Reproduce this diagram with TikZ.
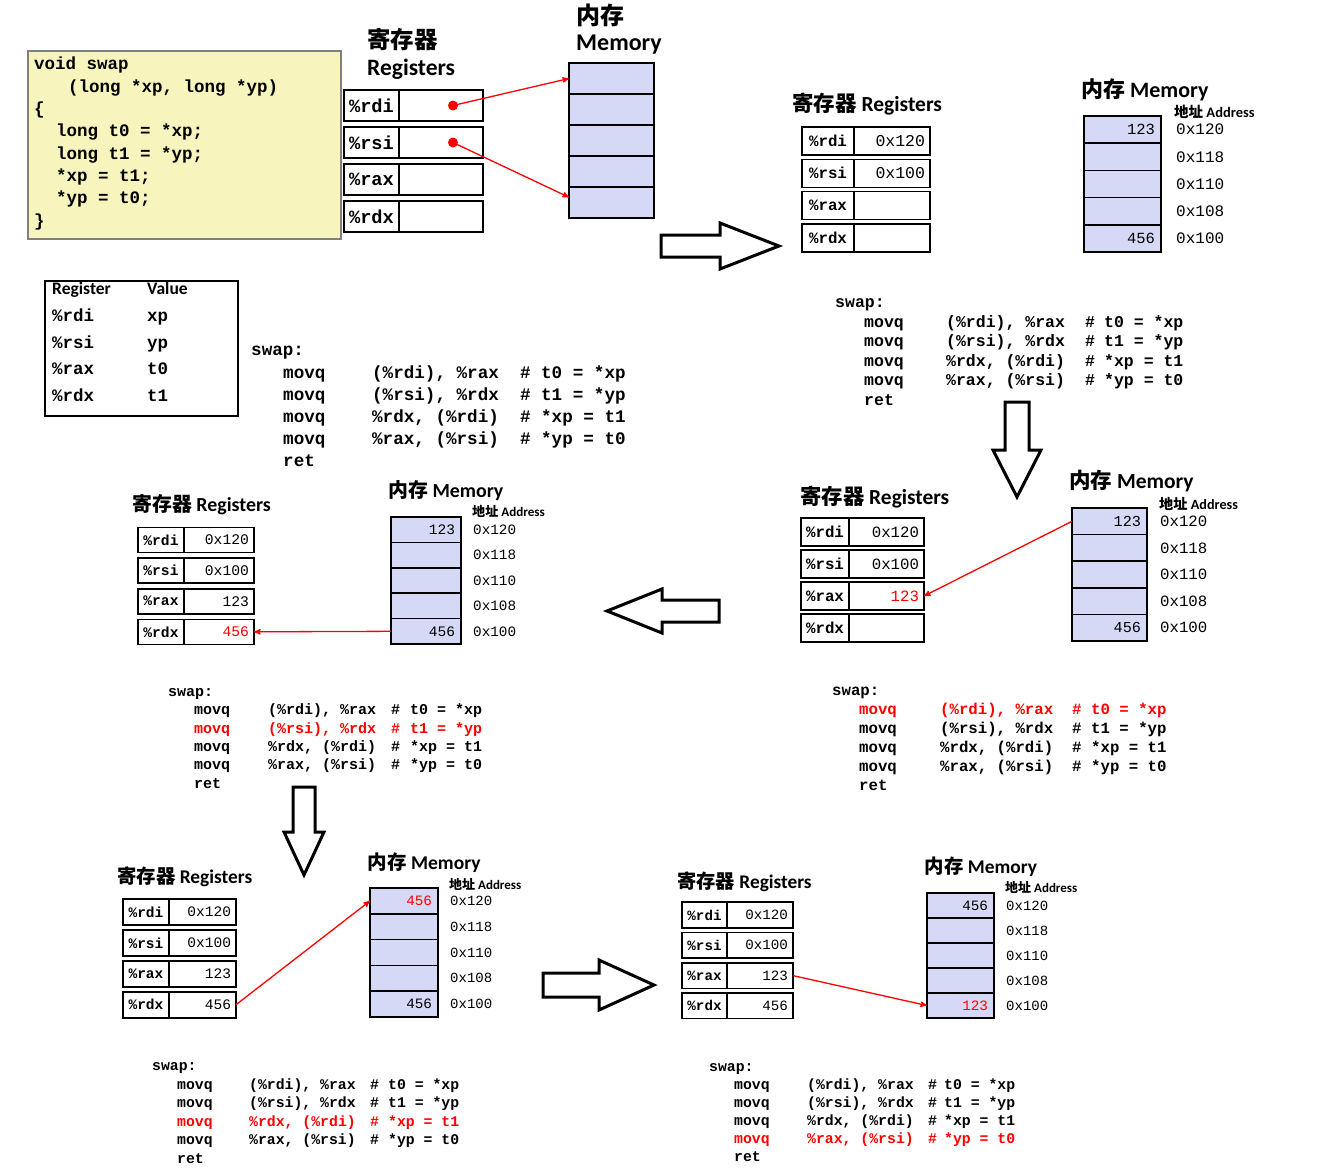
\documentclass[tikz,border=0pt]{standalone}
\usepackage{fontspec}
\setmainfont{Carlito}
\newfontfamily\cb{Liberation Mono}
\newfontfamily\cjkb{Noto Sans CJK SC Bold}
\usetikzlibrary{arrows,positioning}
\definecolor{memblue}{RGB}{214,217,245}
\definecolor{codeyellow}{RGB}{247,244,190}
\newcommand\setfs[2]{\fontsize{#1}{#2}\selectfont}
\newcommand\rd[1]{\textcolor{red}{#1}}
\setlength{\tabcolsep}{0pt}
\tikzset{
  title/.style={anchor=west, inner sep=0, font=\bfseries\setfs{#1}{#1}},
  reglbl/.style n args={3}{draw, line width=1.6, outer sep=0, inner sep=0, minimum width=#1, minimum height=#2, font=\cb\bfseries\setfs{#3}{#3}},
  regval/.style n args={3}{draw, line width=1.6, outer sep=0, inner xsep=5, inner ysep=0, text width=#1pt, align=right, minimum height=#2, font=\cb\setfs{#3}{#3}},
  memcell/.style n args={3}{draw, line width=1.6, fill=memblue, outer sep=0, inner xsep=6, inner ysep=0, text width=#1pt, align=right, minimum height=#2, font=\cb\setfs{#3}{#3}},
  addr/.style={inner sep=0, font=\cb\setfs{#1}{#1}},
  listing/.style 2 args={anchor=north west, inner sep=0, font=\cb\bfseries\setfs{#1}{#2}},
  dot/.style={circle, fill=red, inner sep=0, minimum size=10},
  redarrow/.style={draw=red, line width=1.3, -stealth'},
  blockarrow/.style={draw=black, fill=white, line width=3, line join=miter},
}
\begin{document}
\begin{tikzpicture}[x=1pt,y=-1pt]
\useasboundingbox (0,0) rectangle (1326,1171);

% C source
\node[draw=gray, line width=1.5, fill=codeyellow, anchor=north west, minimum width=313, minimum height=188] (src) at (27,50) {};
\node[listing={17.5}{22.3}] (srctxt) at (34,54.1) {\begin{tabular}{@{}l@{}}
void swap\\
\hspace*{34pt}(long *xp, long *yp)\\
\{\\
\hspace*{22pt}long t0 = *xp;\\
\hspace*{22pt}long t1 = *yp;\\
\hspace*{22pt}*xp = t1;\\
\hspace*{22pt}*yp = t0;\\
\}
\end{tabular}};

% start: registers hold pointers
\node[title=23.5] (p1rt) at (367,40) {\cjkb 寄存器};
\node[title=23.5] (p1rt2) at (367,69) {Registers};
\node[title=24] (p1mt) at (576,15) {\cjkb 内存};
\node[title=24] (p1mt2) at (576,45) {Memory};
\foreach \r [count=\i from 0] in {rdi,rsi,rax,rdx} {
  \node[reglbl={55}{31}{18.7}] (p1\r) at (371.5,105.5+37*\i) {\%\r};
  \node[regval={74}{31}{18}, right=0pt of p1\r] (p1v\r) {};
}
\foreach \i in {0,...,4}
  \node[memcell={73}{31}{16}] (p1m\i) at (611.5,78.5+31*\i) {};
\node[dot] (p1d0) at (453,105.5) {};
\node[dot] (p1d1) at (453,142.5) {};
\draw[redarrow] (p1d0.center) -- (p1m0.west);
\draw[redarrow] (p1d1.center) -- (p1m4.173);

% register use
\node[draw, line width=1.5, anchor=north west, minimum width=193, minimum height=135] (tab) at (44,280) {};
\node[anchor=north west, inner sep=0, font=\setfs{17.5}{26.7}] (tabtxt) at (52,276) {\begin{tabular}{@{}p{95pt}l@{}}
\textbf{Register} & \textbf{Value}\\
\cb\bfseries\%rdi & \cb\bfseries xp\\
\cb\bfseries\%rsi & \cb\bfseries yp\\
\cb\bfseries\%rax & \cb\bfseries t0\\
\cb\bfseries\%rdx & \cb\bfseries t1
\end{tabular}};
\node[listing={17.6}{22.2}] (asm1) at (251,340.2) {\begin{tabular}{@{}p{32pt}p{89pt}p{148pt}p{21pt}l@{}}
\multicolumn{5}{@{}l}{swap:}\\
& movq & (\%rdi), \%rax & \# & t0 = *xp\\
& movq & (\%rsi), \%rdx & \# & t1 = *yp\\
& movq & \%rdx, (\%rdi) & \# & *xp = t1\\
& movq & \%rax, (\%rsi) & \# & *yp = t0\\
& ret &&&
\end{tabular}};

% state before the moves
\draw[blockarrow] (661,235) -- (720,235) -- (720,223) -- (779,246) -- (720,269) -- (720,257) -- (661,257) -- cycle;
\node[title=21.5] (p2rt) at (792,104) {{\cjkb 寄存器} Registers};
\node[title=22] (p2mt) at (1081,90) {{\cjkb 内存} Memory};
\node[title=14.5] (p2at) at (1174,112) {{\cjkb 地址} Address};
\foreach \r/\v [count=\i from 0] in {rdi/0x120,rsi/0x100,rax/,rdx/} {
  \node[reglbl={52}{28}{15.8}] (p2\r) at (828,141+32.3*\i) {\%\r};
  \node[regval={66}{28}{16.5}, right=0pt of p2\r] (p2v\r) {\v};
}
\foreach \v/\a [count=\i from 0] in {123/0x120,/0x118,/0x110,/0x108,456/0x100} {
  \node[memcell={65}{27.2}{15.5}] (p2m\i) at (1122.5,129.6+27.2*\i) {\v};
  \node[addr=16, right=15pt of p2m\i] (p2a\i) {\a};
}
\node[listing={16.5}{19.5}] (asm2) at (835,293.8) {\begin{tabular}{@{}p{29pt}p{82pt}p{139pt}p{19pt}l@{}}
\multicolumn{5}{@{}l}{swap:}\\
& movq & (\%rdi), \%rax & \# & t0 = *xp\\
& movq & (\%rsi), \%rdx & \# & t1 = *yp\\
& movq & \%rdx, (\%rdi) & \# & *xp = t1\\
& movq & \%rax, (\%rsi) & \# & *yp = t0\\
& ret &&&
\end{tabular}};

% step 1
\draw[blockarrow] (1005,402) -- (1029,402) -- (1029,450) -- (1041,450) -- (1017,497) -- (993,450) -- (1005,450) -- cycle;
\node[title=21.4] (p3rt) at (800,497) {{\cjkb 寄存器} Registers};
\node[title=21.5] (p3mt) at (1069,481) {{\cjkb 内存} Memory};
\node[title=14.2] (p3at) at (1159,503.5) {{\cjkb 地址} Address};
\foreach \r/\v [count=\i from 0] in {rdi/0x120,rsi/0x100,rax/{\rd{123}},rdx/} {
  \node[reglbl={48}{28}{15.8}] (p3\r) at (825,532+32*\i) {\%\r};
  \node[regval={65}{28}{15.7}, right=0pt of p3\r] (p3v\r) {\v};
}
\foreach \v/\a [count=\i from 0] in {123/0x120,/0x118,/0x110,/0x108,456/0x100} {
  \node[memcell={63}{26.6}{15.2}] (p3m\i) at (1109.5,521.3+26.6*\i) {\v};
  \node[addr=15.7, right=13pt of p3m\i] (p3a\i) {\a};
}
\draw[redarrow] (p3m0.west) -- (p3vrax.east);
\node[listing={15.7}{19}] (asm3) at (832,682.4) {\begin{tabular}{@{}p{27pt}p{81pt}p{132pt}p{19pt}l@{}}
\multicolumn{5}{@{}l}{swap:}\\
& \rd{movq} & \rd{(\%rdi), \%rax} & \rd{\#} & \rd{t0 = *xp}\\
& movq & (\%rsi), \%rdx & \# & t1 = *yp\\
& movq & \%rdx, (\%rdi) & \# & *xp = t1\\
& movq & \%rax, (\%rsi) & \# & *yp = t0\\
& ret &&&
\end{tabular}};

% step 2
\draw[blockarrow] (719,600) -- (662,600) -- (662,589) -- (607,611) -- (662,633) -- (662,622) -- (719,622) -- cycle;
\node[title=19.9] (p4rt) at (132,505) {{\cjkb 寄存器} Registers};
\node[title=19.9] (p4mt) at (388,491) {{\cjkb 内存} Memory};
\node[title=13.1] (p4at) at (472,511.5) {{\cjkb 地址} Address};
\foreach \r/\v [count=\i from 0] in {rdi/0x120,rsi/0x100,rax/123,rdx/{\rd{456}}} {
  \node[reglbl={46}{25}{14.6}] (p4\r) at (161,540+30.6*\i) {\%\r};
  \node[regval={60}{25}{14.7}, right=0pt of p4\r] (p4v\r) {\v};
}
\foreach \v/\a [count=\i from 0] in {123/0x120,/0x118,/0x110,/0x108,456/0x100} {
  \node[memcell={58}{25.4}{14.5}] (p4m\i) at (426,529.7+25.4*\i) {\v};
  \node[addr=14.3, right=12pt of p4m\i] (p4a\i) {\a};
}
\draw[redarrow] (p4m4.west) -- (p4vrdx.east);
\node[listing={15}{18.4}] (asm4) at (168,683.2) {\begin{tabular}{@{}p{26pt}p{74pt}p{123pt}p{19pt}l@{}}
\multicolumn{5}{@{}l}{swap:}\\
& movq & (\%rdi), \%rax & \# & t0 = *xp\\
& \rd{movq} & \rd{(\%rsi), \%rdx} & \rd{\#} & \rd{t1 = *yp}\\
& movq & \%rdx, (\%rdi) & \# & *xp = t1\\
& movq & \%rax, (\%rsi) & \# & *yp = t0\\
& ret &&&
\end{tabular}};

% step 3
\draw[blockarrow] (293,787) -- (315,787) -- (315,832) -- (324,832) -- (304,875) -- (284,832) -- (293,832) -- cycle;
\node[title=19.4] (p5rt) at (117,877) {{\cjkb 寄存器} Registers};
\node[title=19.5] (p5mt) at (367.5,862.5) {{\cjkb 内存} Memory};
\node[title=13] (p5at) at (449,884) {{\cjkb 地址} Address};
\foreach \r/\v [count=\i from 0] in {rdi/0x120,rsi/0x100,rax/123,rdx/456} {
  \node[reglbl={46}{26}{14.5}] (p5\r) at (146,912+30.9*\i) {\%\r};
  \node[regval={57}{26}{14.5}, right=0pt of p5\r] (p5v\r) {\v};
}
\foreach \v/\a [count=\i from 0] in {{\rd{456}}/0x120,/0x118,/0x110,/0x108,456/0x100} {
  \node[memcell={56}{25.8}{14.3}] (p5m\i) at (404,900.9+25.8*\i) {\v};
  \node[addr=14, right=12pt of p5m\i] (p5a\i) {\a};
}
\draw[redarrow] (p5vrdx.east) -- (p5m0.west);
\node[listing={14.8}{18.5}] (asm5) at (152,1057.5) {\begin{tabular}{@{}p{25pt}p{72pt}p{121pt}p{18pt}l@{}}
\multicolumn{5}{@{}l}{swap:}\\
& movq & (\%rdi), \%rax & \# & t0 = *xp\\
& movq & (\%rsi), \%rdx & \# & t1 = *yp\\
& \rd{movq} & \rd{\%rdx, (\%rdi)} & \rd{\#} & \rd{*xp = t1}\\
& movq & \%rax, (\%rsi) & \# & *yp = t0\\
& ret &&&
\end{tabular}};

% step 4
\draw[blockarrow] (543,973) -- (599,973) -- (599,960) -- (654,985) -- (599,1010) -- (599,997) -- (543,997) -- cycle;
\node[title=19.3] (p6rt) at (677,881.5) {{\cjkb 寄存器} Registers};
\node[title=19.4] (p6mt) at (924.5,867) {{\cjkb 内存} Memory};
\node[title=13] (p6at) at (1005,887.5) {{\cjkb 地址} Address};
\foreach \r/\v [count=\i from 0] in {rdi/0x120,rsi/0x100,rax/123,rdx/456} {
  \node[reglbl={45}{25.5}{14.2}] (p6\r) at (704.5,915+30.3*\i) {\%\r};
  \node[regval={56}{25.5}{14.2}, right=0pt of p6\r] (p6v\r) {\v};
}
\foreach \v/\a [count=\i from 0] in {456/0x120,/0x118,/0x110,/0x108,{\rd{123}}/0x100} {
  \node[memcell={55}{25}{14.3}] (p6m\i) at (960.5,905.5+25*\i) {\v};
  \node[addr=14, right=12pt of p6m\i] (p6a\i) {\a};
}
\draw[redarrow] (p6vrax.east) -- (p6m4.west);
\node[listing={14.8}{18}] (asm6) at (709,1058.4) {\begin{tabular}{@{}p{25pt}p{73pt}p{121pt}p{16pt}l@{}}
\multicolumn{5}{@{}l}{swap:}\\
& movq & (\%rdi), \%rax & \# & t0 = *xp\\
& movq & (\%rsi), \%rdx & \# & t1 = *yp\\
& movq & \%rdx, (\%rdi) & \# & *xp = t1\\
& \rd{movq} & \rd{\%rax, (\%rsi)} & \rd{\#} & \rd{*yp = t0}\\
& ret &&&
\end{tabular}};
\end{tikzpicture}
\end{document}
